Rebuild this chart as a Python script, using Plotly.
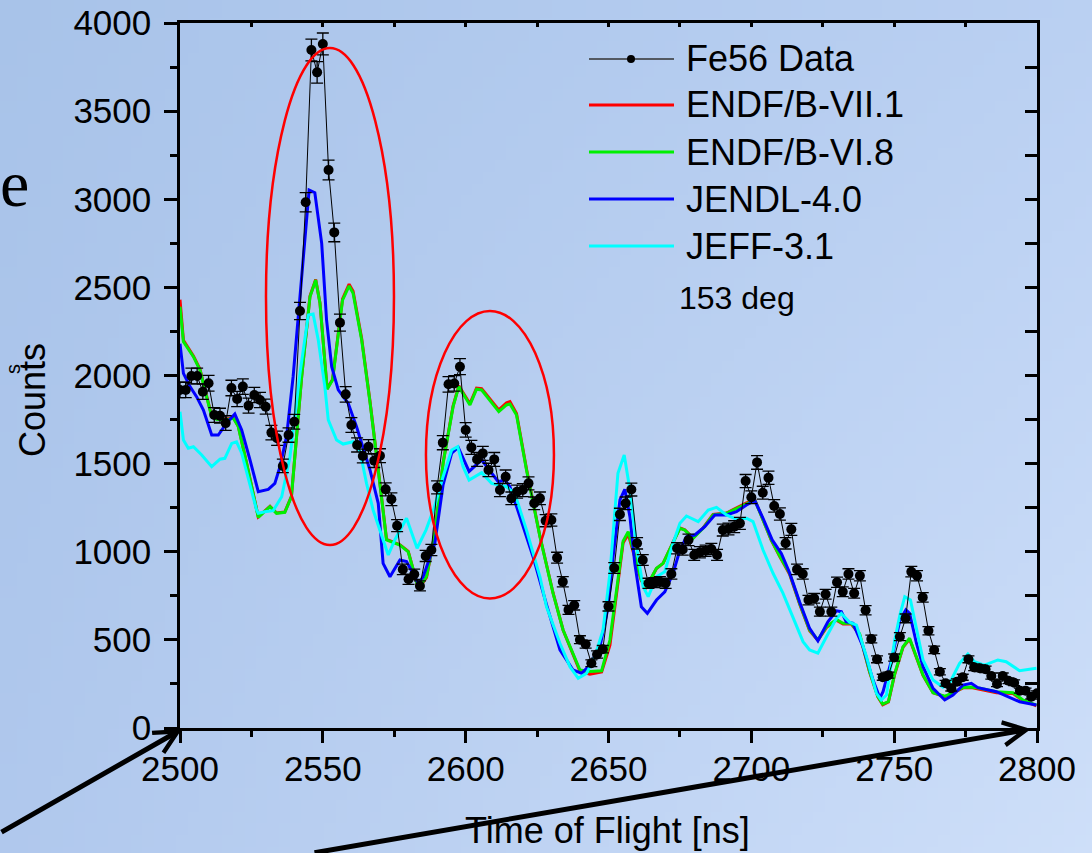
import base64
import struct
import zlib

import numpy as np
import plotly.graph_objects as go

# ---------------------------------------------------------------- data
# Fe-56 measured counts, 2 ns time-of-flight bins
tof = list(range(2500, 2801, 2))
counts = [
    1918, 1918, 1997, 1997, 1908, 1956, 1776, 1772, 1730, 1929,
    1867, 1937, 1829, 1889, 1861, 1823, 1676, 1644, 1487, 1662,
    1738, 2366, 2983, 3847, 3720, 3881, 3166, 2812, 2300, 1893,
    1719, 1606, 1543, 1596, 1517, 1545, 1354, 1298, 1148, 900,
    844, 872, 806, 976, 1010, 1365, 1619, 1950, 1955, 2050,
    1691, 1592, 1524, 1558, 1464, 1524, 1350, 1426, 1303, 1341,
    1350, 1388, 1275, 1303, 1176, 1180, 966, 830, 670, 696,
    501, 475, 367, 417, 447, 690, 908, 1212, 1275, 1353,
    1048, 953, 821, 825, 830, 821, 874, 1020, 1013, 1067,
    982, 997, 1006, 1016, 982, 1123, 1129, 1142, 1161, 1401,
    1309, 1507, 1335, 1420, 1260, 1214, 1048, 1127, 900, 874,
    726, 736, 660, 759, 660, 827, 773, 874, 764, 864,
    668, 505, 390, 288, 300, 400, 518, 622, 887, 864,
    741, 552, 443, 319, 254, 225, 263, 288, 390, 344,
    339, 333, 295, 250, 295, 268, 257, 212, 212, 178,
    197,
]

# Simulated spectra for the evaluated libraries
t_endf71 = [2500, 2501.2, 2504.7, 2507, 2509.3, 2511.1, 2512.8, 2515.7, 2518.7, 2520.4,
            2523.3, 2526.8, 2527.4, 2531.5, 2533.8, 2536.7, 2539, 2540.2, 2542.6, 2545.5,
            2547.5, 2549, 2551.5, 2553.4, 2556.9, 2559.2, 2560.6, 2563.6, 2566.5, 2569.4,
            2571.1, 2572.3, 2577, 2579.9, 2583.5, 2586.3, 2589.2, 2592.1, 2595.6, 2597.6,
            2601.5, 2603.8, 2605.6, 2607.9, 2611.6, 2614.3, 2615.5, 2617.8, 2621.3, 2626,
            2630.6, 2634.1, 2636.5, 2640, 2643.5, 2647.6, 2650.5, 2652.8, 2655.1, 2656.9,
            2659.2, 2661.5, 2663.3, 2666.8, 2669.1, 2671.4, 2675, 2676.7, 2679.6, 2683.1,
            2686.6, 2691.3, 2694.8, 2698.3, 2701.2, 2704.1, 2707, 2710, 2713.4, 2716.9,
            2720.4, 2723.3, 2726.3, 2729.8, 2732.1, 2735, 2737.9, 2741.4, 2744.3, 2746,
            2748, 2750.2, 2753.1, 2755.4, 2757.8, 2760.1, 2763.6, 2767.7, 2770.6, 2774.1,
            2777, 2780, 2785.8, 2791.6, 2795, 2799.8]
v_endf71 = [2430, 2200, 2110, 2035, 1885, 1770, 1755, 1752, 1760, 1712,
            1505, 1240, 1198, 1258, 1220, 1226, 1314, 1540, 1995, 2450,
            2545, 2412, 1925, 1978, 2435, 2518, 2478, 2210, 1855, 1468,
            1240, 1070, 1040, 1002, 788, 855, 1100, 1505, 1828, 1942,
            1840, 1928, 1925, 1880, 1805, 1845, 1852, 1785, 1470, 1088,
            766, 556, 458, 322, 305, 318, 470, 760, 1050, 1100,
            965, 835, 800, 905, 934, 1012, 1135, 1125, 1078, 1135,
            1212, 1220, 1248, 1278, 1296, 1182, 1065, 972, 872, 703,
            552, 498, 570, 612, 590, 590, 530, 318, 176, 132,
            148, 305, 458, 505, 402, 298, 200, 178, 198, 228,
            230, 220, 200, 196, 156, 125]

t_endf68 = t_endf71
v_endf68 = [2390, 2192, 2107, 2031, 1880, 1766, 1751, 1748, 1757, 1710,
            1502, 1237, 1195, 1256, 1218, 1224, 1312, 1539, 1993, 2447,
            2542, 2410, 1922, 1974, 2428, 2508, 2466, 2201, 1850, 1464,
            1237, 1067, 1038, 1000, 790, 860, 1100, 1502, 1823, 1937,
            1833, 1922, 1918, 1871, 1795, 1833, 1838, 1776, 1464, 1085,
            764, 556, 461, 329, 320, 325, 499, 783, 1060, 1114,
            972, 840, 802, 906, 934, 1010, 1133, 1123, 1076, 1133,
            1209, 1218, 1246, 1275, 1294, 1180, 1067, 975, 878, 708,
            556, 500, 575, 615, 594, 594, 535, 320, 178, 135,
            150, 310, 461, 509, 405, 300, 200, 180, 200, 230,
            232, 225, 206, 200, 160, 130]

t_jendl = [2500, 2501.2, 2503.5, 2505.8, 2508.2, 2511.1, 2513.4, 2516.3, 2519.2, 2521.6,
           2524.5, 2527.4, 2530.9, 2533.2, 2535, 2537.3, 2539.6, 2543.1, 2545.2, 2547.2,
           2549.6, 2551.3, 2553.1, 2555.4, 2558.9, 2561.8, 2563.6, 2566.5, 2569.4, 2571.1,
           2573.5, 2577, 2579.3, 2583.4, 2585.1, 2589.2, 2592.1, 2595.1, 2597.4, 2601.2,
           2605.6, 2611.4, 2613.7, 2615.5, 2619, 2623.6, 2628.3, 2633, 2637.6, 2640.6,
           2643.5, 2647, 2649.9, 2651.6, 2654, 2655.7, 2657.5, 2659.2, 2661.5, 2663.6,
           2666.8, 2669.7, 2672.6, 2675, 2677.3, 2680.2, 2683.7, 2687.2, 2691.3, 2694.8,
           2698.3, 2701.2, 2704.1, 2707.3, 2710.5, 2713.4, 2716.9, 2720.4, 2723.3, 2726.8,
           2729.8, 2731.5, 2733.2, 2735.6, 2739.1, 2742.6, 2745, 2746.1, 2749.1, 2752,
           2754.1, 2755.4, 2757.8, 2760.1, 2763.6, 2767.7, 2770.6, 2774.1, 2777, 2779.3,
           2785.8, 2793.9, 2799.8]
v_jendl = [2180, 2012, 1937, 1880, 1804, 1662, 1662, 1729, 1782, 1691,
           1521, 1341, 1354, 1388, 1483, 1653, 1993, 2655, 3052, 3037,
           2750, 2315, 2050, 1918, 1842, 1709, 1615, 1464, 1275, 934,
           858, 953, 944, 821, 858, 1048, 1380, 1559, 1592, 1456,
           1521, 1397, 1407, 1369, 1199, 972, 700, 443, 329, 310,
           357, 461, 688, 972, 1294, 1354, 1199, 934, 688, 651,
           726, 773, 878, 1010, 1085, 1095, 1142, 1209, 1209, 1227,
           1265, 1290, 1190, 1067, 990, 880, 715, 565, 495, 603,
           665, 660, 603, 594, 461, 272, 170, 206, 386, 613,
           670, 651, 481, 348, 225, 159, 187, 244, 254, 229,
           206, 149, 130]

t_jeff = [2500, 2501.2, 2502.9, 2504.7, 2507.6, 2511.1, 2514, 2515.7, 2518.1, 2519.8,
          2521.6, 2524.5, 2526.8, 2527.4, 2529.7, 2532.6, 2535.6, 2538.5, 2542, 2544.9,
          2546.6, 2548.4, 2550.7, 2551.9, 2554.8, 2557.1, 2560.6, 2563, 2565.3, 2567.6,
          2568.8, 2572.9, 2575.2, 2579.3, 2583, 2586.1, 2589, 2592.1, 2595.1, 2597.2,
          2599.1, 2601.2, 2605.6, 2609.1, 2614.3, 2617.2, 2621.3, 2626, 2628.3, 2633,
          2636.5, 2639.4, 2642.3, 2645.2, 2648.1, 2650.5, 2653.3, 2655.5, 2657.5, 2659.8,
          2662.1, 2663.9, 2666.8, 2669.7, 2672.6, 2675, 2677.3, 2681.4, 2684.9, 2687.8,
          2691.3, 2694.8, 2698.3, 2700.6, 2704.1, 2707.6, 2711.1, 2714.6, 2718.1, 2720.4,
          2723.3, 2726.3, 2729.8, 2731.5, 2734.4, 2736.8, 2740.3, 2743.8, 2745.5, 2747.3,
          2750.2, 2752, 2753.7, 2755.7, 2757.8, 2760.1, 2763.6, 2767.1, 2769.4, 2772.9,
          2775.8, 2778.1, 2781.6, 2786.3, 2789.2, 2793.9, 2799.8]
v_jeff = [1795, 1634, 1587, 1596, 1549, 1483, 1525, 1530, 1615, 1624,
          1559, 1388, 1237, 1218, 1227, 1233, 1312, 1539, 2012, 2343,
          2349, 2201, 1937, 1748, 1634, 1611, 1624, 1570, 1388, 1237,
          1180, 982, 1067, 1190, 1020, 1123, 1250, 1426, 1577, 1596,
          1483, 1407, 1449, 1388, 1369, 1331, 1123, 858, 688, 481,
          348, 282, 310, 405, 556, 878, 1445, 1549, 1350, 1029,
          802, 745, 858, 887, 1048, 1161, 1203, 1171, 1237, 1252,
          1209, 1184, 1190, 1171, 1010, 878, 764, 632, 490, 443,
          425, 518, 622, 650, 600, 584, 405, 197, 159, 187,
          499, 641, 745, 726, 556, 386, 272, 231, 254, 367,
          420, 376, 357, 386, 376, 325, 339]

# Resonance regions ringed on the plot: (t0, t1, counts0, counts1)
ringed_regions = [(2530.1, 2574.9, 1038, 3858), (2586.1, 2630.9, 735, 2366)]

legend_labels = ["Fe56 Data", "ENDF/B-VII.1", "ENDF/B-VI.8", "JENDL-4.0", "JEFF-3.1"]
legend_colors = ["#333333", "#ff0000", "#00f000", "#0000ff", "#00ffff"]
angle_label = "153 deg"

# ---------------------------------------------------------------- page geometry
W, H = 1092, 853
ML, MR, MT, MB = 180, 55, 23, 125
PW, PH = W - ML - MR, H - MT - MB
FONT = "Liberation Sans, Arial, sans-serif"


def px(x):
    return (x - ML) / PW


def py(y):
    return (H - MB - y) / PH


def gradient_png(w, h):
    """Soft blue slide backdrop as an inline PNG."""
    tl, tr = np.array([168, 195, 233]), np.array([186, 208, 242])
    bl, br = np.array([176, 200, 237]), np.array([206, 223, 249])
    raw = bytearray()
    for j in range(h):
        raw.append(0)
        v = j / (h - 1)
        for i in range(w):
            u = i / (w - 1)
            c = tl * (1 - u) * (1 - v) + tr * u * (1 - v) + bl * (1 - u) * v + br * u * v
            raw.extend(int(round(k)) for k in c)

    def chunk(tag, data):
        return (struct.pack(">I", len(data)) + tag + data
                + struct.pack(">I", zlib.crc32(tag + data) & 0xFFFFFFFF))

    png = (b"\x89PNG\r\n\x1a\n"
           + chunk(b"IHDR", struct.pack(">IIBBBBB", w, h, 8, 2, 0, 0, 0))
           + chunk(b"IDAT", zlib.compress(bytes(raw), 9))
           + chunk(b"IEND", b""))
    return "data:image/png;base64," + base64.b64encode(png).decode()


# ---------------------------------------------------------------- traces
fig = go.Figure()

model_series = [
    (t_endf71, v_endf71, legend_colors[1], legend_labels[1]),
    (t_endf68, v_endf68, legend_colors[2], legend_labels[2]),
    (t_jendl, v_jendl, legend_colors[3], legend_labels[3]),
    (t_jeff, v_jeff, legend_colors[4], legend_labels[4]),
]
for t, v, col, name in model_series:
    fig.add_trace(go.Scatter(x=t, y=v, mode="lines", name=name,
                             line=dict(color=col, width=3), showlegend=False))

err = np.sqrt(np.array(counts, dtype=float))
fig.add_trace(go.Scatter(
    x=tof, y=counts, mode="lines+markers", name=legend_labels[0],
    line=dict(color="black", width=1),
    marker=dict(color="black", size=10),
    error_y=dict(type="data", array=err, color="black", thickness=1.3, width=6),
    showlegend=False,
))

# carriers for the mirrored top / right tick marks
fig.add_trace(go.Scatter(x=[None], y=[None], xaxis="x2", yaxis="y",
                         showlegend=False, hoverinfo="skip"))
fig.add_trace(go.Scatter(x=[None], y=[None], xaxis="x", yaxis="y2",
                         showlegend=False, hoverinfo="skip"))

# ---------------------------------------------------------------- shapes
shapes = []
for t0, t1, c0, c1 in ringed_regions:
    shapes.append(dict(type="circle", xref="x", yref="y", x0=t0, x1=t1, y0=c0, y1=c1,
                       line=dict(color="#ff0000", width=2.5), layer="above"))

row_y = [59, 105, 152, 199, 246]
for i, (lab, col) in enumerate(zip(legend_labels, legend_colors)):
    shapes.append(dict(type="line", xref="paper", yref="paper",
                       x0=px(589), x1=px(674), y0=py(row_y[i]), y1=py(row_y[i]),
                       line=dict(color=col, width=1.5 if i == 0 else 3)))
shapes.append(dict(type="circle", xref="paper", yref="paper",
                   x0=px(627), x1=px(635), y0=py(row_y[0] + 4), y1=py(row_y[0] - 4),
                   fillcolor="black", line=dict(color="black", width=0)))

# ---------------------------------------------------------------- annotations
ann = []
for i, lab in enumerate(legend_labels):
    ann.append(dict(text=lab, xref="paper", yref="paper", x=px(684), y=py(row_y[i]),
                    xanchor="left", yanchor="middle", showarrow=False,
                    font=dict(family=FONT, size=36, color="black")))
ann.append(dict(text=angle_label, xref="paper", yref="paper", x=px(677), y=py(298),
                xanchor="left", yanchor="middle", showarrow=False,
                font=dict(family=FONT, size=32, color="black")))
ann.append(dict(text="Counts", xref="paper", yref="paper", x=px(32), y=py(400),
                textangle=-90, xanchor="center", yanchor="middle", showarrow=False,
                font=dict(family=FONT, size=36, color="black")))
ann.append(dict(text="Time of Flight [ns]", xref="paper", yref="paper",
                x=px(607), y=py(830), xanchor="center", yanchor="middle",
                showarrow=False, font=dict(family=FONT, size=36, color="black")))
# fragments of the surrounding slide text
ann.append(dict(text="e", xref="paper", yref="paper", x=px(31), y=py(183),
                xanchor="right", yanchor="middle", showarrow=False,
                font=dict(family="Liberation Serif, Times New Roman, serif", size=66,
                          color="black")))
ann.append(dict(text="s", xref="paper", yref="paper", x=px(0), y=py(369),
                textangle=-90, xanchor="left", yanchor="middle", showarrow=False,
                font=dict(family=FONT, size=20, color="black")))
# slide arrows pointing at the ends of the time axis
ann.append(dict(text="", xref="paper", yref="paper", x=px(182), y=py(729),
                ax=-186, ay=104, showarrow=True, arrowhead=5, arrowsize=0.9,
                arrowwidth=5, arrowcolor="black"))
ann.append(dict(text="", xref="paper", yref="paper", x=px(1031), y=py(729),
                ax=-718, ay=126, showarrow=True, arrowhead=5, arrowsize=0.9,
                arrowwidth=5, arrowcolor="black"))

# ---------------------------------------------------------------- layout
axis_common = dict(showgrid=False, zeroline=False, linecolor="black",
                   tickcolor="black", tickwidth=2.5, automargin=False)
fig.update_layout(
    width=W, height=H,
    margin=dict(l=ML, r=MR, t=MT, b=MB, pad=0, autoexpand=False),
    paper_bgcolor="#b4cbee",
    plot_bgcolor="rgba(0,0,0,0)",
    showlegend=False,
    font=dict(family=FONT, color="black"),
    xaxis=dict(range=[2500, 2800], showline=True, linewidth=2.5, mirror=True,
               ticks="outside", ticklen=12, dtick=50, tick0=2500,
               tickfont=dict(size=35, family=FONT), ticklabelstandoff=-4,
               minor=dict(dtick=25, tick0=2500, ticks="outside", ticklen=6,
                          tickwidth=2.5, tickcolor="black", showgrid=False),
               **axis_common),
    yaxis=dict(range=[0, 4000], showline=True, linewidth=2.5, mirror=True,
               ticks="outside", ticklen=13, dtick=500, tick0=0,
               tickfont=dict(size=35, family=FONT), ticklabelstandoff=6,
               minor=dict(dtick=250, tick0=0, ticks="outside", ticklen=7,
                          tickwidth=2.5, tickcolor="black", showgrid=False),
               **axis_common),
    xaxis2=dict(range=[2500, 2800], overlaying="x", side="top", anchor="y",
                showline=False, ticks="inside", ticklen=4, dtick=25, tick0=2500,
                showticklabels=False, **axis_common),
    yaxis2=dict(range=[0, 4000], overlaying="y", side="right", anchor="x",
                showline=False, ticks="inside", ticklen=12, dtick=250, tick0=0,
                showticklabels=False, **axis_common),
    shapes=shapes,
    annotations=ann,
    images=[dict(source=gradient_png(96, 72), xref="paper", yref="paper",
                 x=-ML / PW, y=1 + MT / PH, sizex=W / PW, sizey=H / PH,
                 xanchor="left", yanchor="top", sizing="stretch", layer="below")],
)

fig.write_html("out.html")
